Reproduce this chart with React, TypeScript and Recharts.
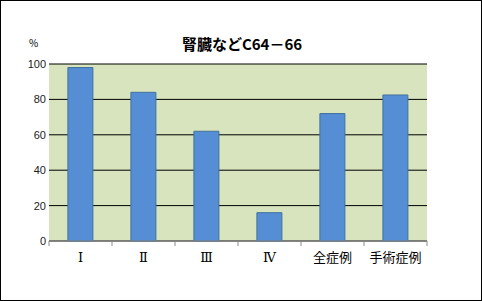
import { BarChart, Bar, XAxis, YAxis, CartesianGrid } from 'recharts';

const categories = ['Ⅰ', 'Ⅱ', 'Ⅲ', 'Ⅳ', '全症例', '手術症例'];
const rates = [98, 84, 62, 16, 72, 82.5];
const yTicks = [0, 20, 40, 60, 80, 100];

const data = categories.map((name, i) => ({ name, rate: rates[i] }));

// label under the category plus a small tick mark on the category boundary
const CategoryTick = (props: any) => {
  const { x, y, payload, index } = props;
  const off = payload.offset || 0;
  const isLast = index === categories.length - 1;
  return (
    <g>
      <line x1={x - off} y1={y - 8} x2={x - off} y2={y - 3} stroke="#898989" />
      {isLast && <line x1={x + off} y1={y - 8} x2={x + off} y2={y - 3} stroke="#898989" />}
      <text
        x={x}
        y={y + 13}
        textAnchor="middle"
        fontSize={13}
        fill="#000"
        fontFamily="'DejaVu Serif', 'Noto Sans CJK JP', serif"
      >
        {payload.value}
      </text>
    </g>
  );
};

export default function App() {
  return (
    <div
      style={{
        position: 'absolute',
        left: 0,
        top: 0,
        width: 480,
        height: 299,
        border: '1px solid #000',
        background: '#fff',
        fontFamily: "'Liberation Sans', Arial, sans-serif",
      }}
    >
      <div
        style={{
          position: 'absolute',
          top: 34,
          left: 0,
          width: 482,
          textAlign: 'center',
          fontSize: 15,
          fontWeight: 'bold',
          fontFamily: "'Noto Sans CJK JP', sans-serif",
          lineHeight: '18px',
        }}
      >
        腎臓などC64－66
      </div>
      <div
        style={{
          position: 'absolute',
          top: 34,
          left: 28,
          fontSize: 10,
          fontFamily: "'Noto Sans CJK JP', sans-serif",
        }}
      >
        %
      </div>
      <div style={{ position: 'absolute', left: -1, top: -1 }}>
        <BarChart
          width={482}
          height={301}
          data={data}
          margin={{ top: 64, right: 55, left: 19, bottom: 30 }}
          barCategoryGap="30%"
        >
          <CartesianGrid
            vertical={false}
            stroke="#000"
            fill="#D7E4BD"
            horizontalValues={yTicks}
          />
          <XAxis
            dataKey="name"
            axisLine={{ stroke: '#898989' }}
            tickLine={false}
            height={30}
            interval={0}
            tick={<CategoryTick />}
            tickSize={0}
            tickMargin={8}
          />
          <YAxis
            domain={[0, 100]}
            ticks={yTicks}
            width={30}
            axisLine={false}
            tickLine={false}
            tickSize={0}
            tickMargin={3}
            tick={{ fill: '#222', fontSize: 11 }}
          />
          <Bar
            dataKey="rate"
            fill="#558ED5"
            stroke="#41719C"
            strokeWidth={1}
            isAnimationActive={false}
          />
        </BarChart>
      </div>
    </div>
  );
}
